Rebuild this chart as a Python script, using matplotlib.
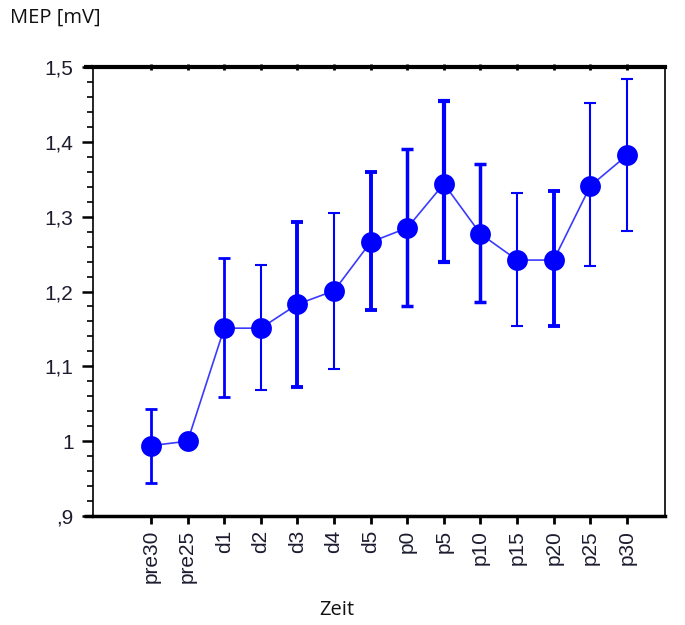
import matplotlib
matplotlib.use("Agg")
import matplotlib.pyplot as plt
import numpy as np

categories = ["pre30", "pre25", "d1", "d2", "d3", "d4", "d5", "p0", "p5",
              "p10", "p15", "p20", "p25", "p30"]
means = [0.994, 1.000, 1.151, 1.151, 1.183, 1.201, 1.266, 1.285, 1.344,
         1.277, 1.242, 1.242, 1.341, 1.382]
err_upper = [1.043, 1.000, 1.245, 1.235, 1.293, 1.305, 1.360, 1.390, 1.455,
             1.370, 1.332, 1.334, 1.452, 1.484]
err_lower = [0.944, 1.000, 1.059, 1.068, 1.072, 1.096, 1.175, 1.180, 1.239,
             1.186, 1.154, 1.154, 1.234, 1.281]
ytick_vals = [0.9, 1.0, 1.1, 1.2, 1.3, 1.4, 1.5]
ytick_labels = [",9", "1", "1,1", "1,2", "1,3", "1,4", "1,5"]

# per-bar line widths (visual style only)
bar_lw = [2.0, 1.5, 2.0, 1.5, 2.8, 1.5, 2.8, 2.5, 3.0, 2.5, 1.5, 2.8, 1.5, 1.5]

blue = "#0000ff"
tick_col = "#1c1c30"

fig = plt.figure(figsize=(6.85, 6.25), dpi=100)
ax = fig.add_axes([93/685, 1-516/625, (665-93)/685, (516-67)/625])

x = np.arange(len(categories))
m = np.array(means)
lo = m - np.array(err_lower)
hi = np.array(err_upper) - m

ax.plot(x, m, color="#3a3aff", lw=1.2, zorder=2)
for i in range(len(x)):
    if hi[i] > 0 or lo[i] > 0:
        ax.errorbar(x[i], m[i], yerr=[[lo[i]], [hi[i]]], fmt="none",
                    ecolor=blue, elinewidth=bar_lw[i], capsize=4.3,
                    capthick=bar_lw[i], zorder=3)
ax.plot(x, m, "o", color=blue, markersize=15, markeredgewidth=0, zorder=4)

ax.set_xlim(-1.585, 14.04)
ax.set_ylim(0.9, 1.5)

ax.set_xticks(x)
ax.set_xticklabels(categories, rotation=90, fontsize=15, color=tick_col,
                   family="Liberation Sans")
ax.set_yticks(ytick_vals)
ax.set_yticklabels(ytick_labels, fontsize=15, color=tick_col,
                   family="Liberation Sans")
ax.set_yticks(np.arange(0.9, 1.5001, 0.02), minor=True)
ax.tick_params(axis="y", which="major", length=8, width=1.8, direction="out",
               pad=6)
ax.tick_params(axis="y", which="minor", length=4, width=1.2, direction="out")
ax.tick_params(axis="x", which="major", length=6, width=2.0, direction="out",
               pad=4)

sec = ax.secondary_xaxis("top")
sec.set_xticks(x)
sec.tick_params(direction="inout", length=5, width=2.0, labeltop=False)
sec.spines["top"].set_visible(False)

ax.spines["top"].set_linewidth(3.0)
ax.spines["bottom"].set_linewidth(2.5)
ax.spines["left"].set_linewidth(1.2)
ax.spines["right"].set_linewidth(1.2)

# extend thick top/bottom lines left past the axis like the reference
for yy, lw in [(1.0, 3.0), (0.0, 2.5)]:
    ax.plot([-0.016, 0], [yy, yy], transform=ax.transAxes, clip_on=False,
            color="black", lw=lw, solid_capstyle="butt")

fig.text(10/685, 1-18/625, "MEP [mV]", fontsize=14.5, family="Open Sans",
         va="center", ha="left", color="#111")
fig.text(337/685, 1-610/625, "Zeit", fontsize=14.5, family="Open Sans",
         va="center", ha="center", color="#111")

fig.savefig("out.png", dpi=100)
